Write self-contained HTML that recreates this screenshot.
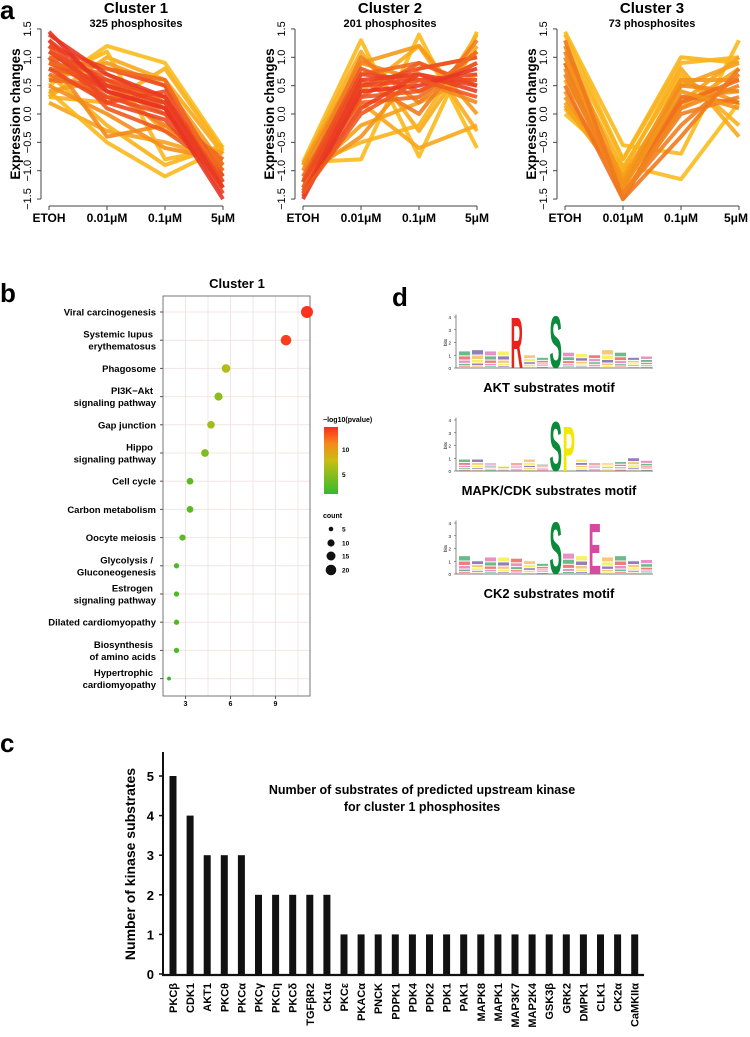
<!DOCTYPE html>
<html><head><meta charset="utf-8"><style>
html,body{margin:0;padding:0;background:#fff;}
svg{display:block;font-family:"Liberation Sans",sans-serif;}
text{font-weight:bold;}
</style></head><body>
<svg id="fig" width="750" height="1037" viewBox="0 0 750 1037"></svg>
<script>
// ---------- Panel a data ----------
const aCats = ["ETOH","0.01\u03bcM","0.1\u03bcM","5\u03bcM"];
const aTicks = [-1.5,-1.0,-0.5,0.0,0.5,1.0,1.5];
const c1Lines = [[0.2,-0.3,-0.5,-0.8],[0.4,-0.5,-1.1,-0.6],[0.7,-0.2,-0.9,-0.55],[0.5,1.2,0.9,-0.6],[0.3,1.0,0.6,-0.7],[0.6,1.1,-0.8,-0.6],[0.3,0.2,0.8,-0.65],[0.4,0.6,-0.3,-0.7],[0.5,0.0,-0.6,-0.8],[0.6,0.9,0.5,-0.9],[0.9,0.4,-0.2,-0.9],[1.0,-0.4,-0.2,-0.9],[0.6,0.5,0.0,-0.8],[0.7,0.3,0.2,-0.9],[1.2,0.1,-0.3,-1.0],[0.8,0.6,0.1,-1.0],[1.0,0.3,0.0,-1.1],[0.9,0.5,0.3,-1.1],[1.2,0.8,0.5,-1.1],[0.9,0.7,0.2,-1.0],[0.8,0.2,0.4,-1.3],[1.0,0.8,0.6,-1.2],[1.1,0.4,0.1,-1.3],[1.3,0.2,-0.1,-1.2],[1.1,0.6,0.3,-1.2],[1.4,0.7,0.3,-1.3],[1.3,0.5,0.2,-1.4],[1.45,0.4,0.1,-1.5]];
const c2Lines = [[-0.85,1.3,-0.75,1.45],[-0.9,1.1,-0.3,1.2],[-0.85,-0.8,1.4,-0.6],[-0.95,-0.5,-0.2,1.4],[-1.0,0.4,1.2,-0.3],[-1.0,0.2,-0.6,-0.2],[-0.9,0.9,1.2,0.0],[-1.15,-0.2,0.2,0.7],[-1.1,-0.4,0.8,1.0],[-1.0,0.9,0.6,0.2],[-1.2,0.6,0.0,1.3],[-1.2,1.0,0.2,1.1],[-1.1,0.7,0.9,0.5],[-1.3,0.3,0.9,0.5],[-1.2,0.8,0.4,0.9],[-1.2,0.5,0.8,1.0],[-1.4,0.5,0.6,0.7],[-1.3,0.7,0.6,0.6],[-1.3,0.2,0.3,1.1],[-1.35,0.3,0.4,0.9],[-1.45,0.6,0.7,0.4],[-1.4,0.1,0.7,0.5],[-1.5,0.4,0.5,0.8],[-1.4,0.0,0.6,0.3]];
const c3Lines = [[1.45,-0.55,-0.7,1.3],[1.2,-0.8,1.0,0.9],[1.4,-0.8,0.9,1.0],[0.0,-0.9,-1.15,0.2],[0.1,-1.0,0.8,-0.4],[1.0,-0.95,0.7,-0.2],[0.2,-1.1,0.5,0.9],[0.15,-1.2,0.1,0.8],[0.3,-1.2,0.6,0.6],[0.6,-1.1,0.2,1.0],[0.4,-1.3,0.3,0.4],[1.2,-1.2,0.6,0.2],[0.9,-1.3,0.5,0.4],[0.7,-1.4,0.0,0.3],[1.1,-1.4,-0.2,0.7],[0.5,-1.5,0.3,0.2],[0.9,-1.5,0.2,0.6],[0.8,-1.45,0.1,0.5],[1.0,-1.3,0.4,0.1],[1.3,-1.5,-0.4,0.8]];
const c1Colors = ["#f6a21a","#f9b81c","#f8b21a","#fbbd1d","#f8a81b","#fbb71c","#f9b01b","#f7a01b","#f58e1c","#f59a1b","#f27a1e","#f38a1d","#f06a20","#f07020","#ef5a20","#ee6221","#ee4d22","#ef5820","#ec4a22","#f06a20","#ec4a22","#f26c1f","#ea4024","#ec4822","#ed4c22","#e93a24","#ea3e24","#e83424"];
const c2Colors = ["#fbb91c","#f9aa1b","#fbba1d","#fab41c","#f9ac1b","#f8a71b","#f59a1b","#f6a01b","#f4921c","#f38a1d","#f17c1e","#f27e1e","#f06c1f","#ef5d20","#ee5221","#ed5021","#ec4722","#ec4a22","#f06b1f","#ee5621","#ea3d24","#eb4223","#e83524","#ee5a21"];
const c3Colors = ["#fbb91c","#f9b21c","#fab51c","#fbbc1e","#f8ab1b","#f9b01b","#f6a01b","#f7a51b","#f5951c","#f7a11b","#f4931c","#f5971c","#f28a1d","#f0801f","#f28020","#f0721f","#ef6e20","#f2851e","#f4931c","#f07a1f"];

// ---------- Panel b data ----------
const bTerms = [["Viral carcinogenesis"],["Systemic lupus","erythematosus"],["Phagosome"],["PI3K\u2212Akt","signaling pathway"],["Gap junction"],["Hippo","signaling pathway"],["Cell cycle"],["Carbon metabolism"],["Oocyte meiosis"],["Glycolysis /","Gluconeogenesis"],["Estrogen","signaling pathway"],["Dilated cardiomyopathy"],["Biosynthesis","of amino acids"],["Hypertrophic","cardiomyopathy"]];
const bX = [11.1,9.7,5.7,5.2,4.7,4.3,3.3,3.3,2.8,2.4,2.4,2.4,2.4,1.9];
const bCount = [20,17,13,12,11,11,9,9,8,6,6,6,6,3];
const bPval = [13,12.5,6.5,5,5.8,4.5,3,3,3,2.5,2.5,2.5,2.5,1.5];
const bTicks = [3,6,9];

// ---------- Panel c data ----------
const kinases = ["PKC\u03b2","CDK1","AKT1","PKC\u03b8","PKC\u03b1","PKC\u03b3","PKC\u03b7","PKC\u03b4","TGF\u03b2R2","CK1\u03b1","PKC\u03b5","PKAC\u03b1","PNCK","PDPK1","PDK4","PDK2","PDK1","PAK1","MAPK8","MAPK1","MAP3K7","MAP2K4","GSK3\u03b2","GRK2","DMPK1","CLK1","CK2\u03b1","CaMKII\u03b1"];
const substrates = [5,4,3,3,3,2,2,2,2,2,1,1,1,1,1,1,1,1,1,1,1,1,1,1,1,1,1,1];
const cTicks = [0,1,2,3,4,5];

// ---------- Panel d data ----------
const logoTitles = ["AKT substrates motif","MAPK/CDK substrates motif","CK2 substrates motif"];
const logoBig = [[[5,"R",4.1,"#e8231c"],[8,"S",4.2,"#0a8a3a"]],[[8,"S",4.0,"#0a8a3a"],[9,"P",3.6,"#f0e800"]],[[8,"S",4.2,"#0a8a3a"],[11,"E",4.1,"#d64aa0"]]];
const logoNoise = [[1.3,1.4,1.3,1.3,0,1.0,0.8,0,1.2,1.1,1.0,1.4,1.2,0.8,0.9],[0.9,0.9,0.6,0.4,0.6,0.9,0.5,0,0,0.9,0.6,0.6,0.7,1.0,0.8],[1.4,1.0,1.3,1.3,1.2,1.0,0.8,0,1.6,1.4,0,1.3,1.4,1.0,1.1]];

const svg = document.getElementById('fig');
const NS = "http://www.w3.org/2000/svg";
function mk(tag, attrs, parent){const e=document.createElementNS(NS,tag);for(const k in attrs)e.setAttribute(k,attrs[k]);(parent||svg).appendChild(e);return e;}
function txt(s, attrs, parent){const e=mk('text',attrs,parent);e.textContent=s;return e;}

let L;
L=txt("a",{x:0,y:19,"font-size":26});
L=txt("b",{x:0,y:302,"font-size":26});
L=txt("c",{x:0,y:752,"font-size":26});
L=txt("d",{x:392,y:306,"font-size":26});

// ---------- Panel a ----------
function lineChart(x0, x1, title, sub, lines, colors, idx){
  const g=mk('g',{});
  
  
  const yS=v=>114-v*56.7;
  const xS=i=>x0+i*(x1-x0)/3;
  lines.forEach((ln,k)=>{
    const p=mk('polyline',{points:ln.map((v,i)=>xS(i)+","+yS(v)).join(" "),fill:"none",stroke:colors[k],"stroke-width":4,"stroke-linejoin":"round","stroke-opacity":0.9},g);
    
    
  });
  mk('line',{x1:x0-8,y1:yS(-1.5),x2:x0-8,y2:yS(1.5),stroke:"#444","stroke-width":1},g);
  aTicks.forEach(t=>{
    mk('line',{x1:x0-12,y1:yS(t),x2:x0-8,y2:yS(t),stroke:"#444"},g);
    const tl=txt(t.toFixed(1).replace("-","\u2212"),{x:0,y:0,"font-size":11,"text-anchor":"middle",transform:`translate(${x0-18},${yS(t)}) rotate(-90)`,style:"font-weight:normal"},g);
    
  });
  mk('line',{x1:x0,y1:206,x2:x1,y2:206,stroke:"#444"},g);
  aCats.forEach((c,i)=>{
    mk('line',{x1:xS(i),y1:206,x2:xS(i),y2:210,stroke:"#444"},g);
    const tl=txt(c,{x:i===3?Math.min(xS(i),736):xS(i),y:222,"font-size":12,"text-anchor":"middle"},g);
    
  });
  const yt=txt("Expression changes",{x:0,y:0,"font-size":13.5,"text-anchor":"middle",transform:`translate(${x0-29},${yS(0)}) rotate(-90)`},g);
  
  const tt=txt(title,{x:(x0+x1)/2,y:13,"font-size":15,"text-anchor":"middle"},g);
  
  const st=txt(sub,{x:(x0+x1)/2,y:27,"font-size":11,"text-anchor":"middle"},g);
  
}
lineChart(49,223,"Cluster 1","325 phosphosites",c1Lines,c1Colors,1);
lineChart(303,477,"Cluster 2","201 phosphosites",c2Lines,c2Colors,2);
lineChart(565,739,"Cluster 3","73 phosphosites",c3Lines,c3Colors,3);

// ---------- Panel b ----------
(function(){
  const g=mk('g',{});
  
  const px0=163,px1=310,py0=296,py1=696;
  const xS=v=>px0+(v-1.5)*15;
  const yS=i=>312+i*28.2;
  for(let v=1.5;v<=11.5;v+=1.5){ if(xS(v)>px0&&xS(v)<px1) mk('line',{x1:xS(v),y1:py0,x2:xS(v),y2:py1,stroke:"#f3e4e4","stroke-width":1},g);}
  bTerms.forEach((t,i)=>mk('line',{x1:px0,y1:yS(i),x2:px1,y2:yS(i),stroke:"#f3e4e4"},g));
  mk('rect',{x:px0,y:py0,width:px1-px0,height:py1-py0,fill:"none",stroke:"#777","stroke-width":1},g);
  const tt=txt("Cluster 1",{x:237,y:288,"font-size":13,"text-anchor":"middle"},g);
  
  function col(p){
    const f=Math.max(0,Math.min(1,(p-1.5)/(13-1.5)));
    let r,gg,b;
    if(f<0.5){const k=f/0.5;r=Math.round(50+k*(200-50));gg=Math.round(185+k*(190-185));b=Math.round(40+k*(20-40));}
    else{const k=(f-0.5)/0.5;r=Math.round(200+k*(255-200));gg=Math.round(190-k*(190-50));b=Math.round(20+k*(30-20));}
    return `rgb(${r},${gg},${b})`;
  }
  bTerms.forEach((t,i)=>{
    mk('line',{x1:px0-3,y1:yS(i),x2:px0,y2:yS(i),stroke:"#555"},g);
    if(t.length===1){
      const l=txt(t[0],{x:156,y:yS(i)+3.5,"font-size":9.5,"text-anchor":"end"},g);
      
    } else {
      const l1=txt(t[0],{x:153,y:yS(i)-2.5,"font-size":9.5,"text-anchor":"end"},g);
      
      const l2=txt(t[1],{x:156,y:yS(i)+9.5,"font-size":9.5,"text-anchor":"end"},g);
      
    }
    const d=mk('circle',{cx:xS(bX[i]),cy:yS(i),r:1.2+bCount[i]*0.24,fill:col(bPval[i])},g);
    
  });
  bTicks.forEach(v=>{
    mk('line',{x1:xS(v),y1:py1,x2:xS(v),y2:py1+3,stroke:"#555"},g);
    const l=txt(String(v),{x:xS(v),y:706,"font-size":7,"text-anchor":"middle"},g);
    
  });
  const lg=mk('g',{},g);
  txt("\u2212log10(pvalue)",{x:323,y:422,"font-size":7},lg);
  const defs=mk('defs',{},lg);
  const gr=mk('linearGradient',{id:"gb",x1:0,y1:1,x2:0,y2:0},defs);
  mk('stop',{offset:"0",  "stop-color":"#33bb2a"},gr);
  mk('stop',{offset:"0.5","stop-color":"#c8be14"},gr);
  mk('stop',{offset:"0.75","stop-color":"#f58a1a"},gr);
  mk('stop',{offset:"1","stop-color":"#ff2a20"},gr);
  const cb=mk('rect',{x:324,y:427,width:14,height:67,fill:"url(#gb)"},lg);
  
  txt("10",{x:342,y:452,"font-size":6.5},lg);
  txt("5",{x:342,y:477,"font-size":6.5},lg);
  txt("count",{x:323,y:518,"font-size":7},lg);
  [[5,529,2.3],[10,543,3.6],[15,556,4.5],[20,570,5.3]].forEach(a=>{
    mk('circle',{cx:331,cy:a[1],r:a[2],fill:"#111"},lg);
    txt(String(a[0]),{x:342,y:a[1]+2.5,"font-size":6.5},lg);
  });
})();

// ---------- Panel c ----------
(function(){
  const g=mk('g',{});
  
  const yS=v=>974-v*39.6;
  const xS=i=>173+i*17.1;
  kinases.forEach((k,i)=>{
    const b=mk('rect',{x:xS(i)-3.5,y:yS(substrates[i]),width:7,height:974-yS(substrates[i]),fill:"#111"},g);
    
    const l=txt(k,{x:0,y:0,"font-size":11,"text-anchor":"end",transform:`translate(${xS(i)+4},${983}) rotate(-90)`},g);
    
  });
  mk('line',{x1:163,y1:752,x2:163,y2:975,stroke:"#111","stroke-width":2},g);
  mk('line',{x1:162,y1:975,x2:644,y2:975,stroke:"#111","stroke-width":2.2},g);
  cTicks.forEach(t=>{
    mk('line',{x1:159,y1:yS(t),x2:163,y2:yS(t),stroke:"#111","stroke-width":1.5},g);
    const l=txt(String(t),{x:154,y:yS(t)+5,"font-size":13,"text-anchor":"end"},g);
    
  });
  const yt=txt("Number of kinase substrates",{x:0,y:0,"font-size":14,"text-anchor":"middle",transform:"translate(135,864) rotate(-90)"},g);
  
  const t1=txt("Number of substrates of predicted upstream kinase",{x:422,y:794,"font-size":12.5,"text-anchor":"middle"},g);
  
  const t2=txt("for cluster 1 phosphosites",{x:422,y:811,"font-size":12.5,"text-anchor":"middle"},g);
  
})();

// ---------- Panel d ----------
(function(){
  const baseY=[368,471,574];
  const noiseCols=["#e8231c","#f5a21a","#0a8a3a","#4a2a8a","#d64aa0","#f0e800"];
  logoTitles.forEach((ttl,li)=>{
    const g=mk('g',{});
    
    const y0=baseY[li], bpx=12.75;
    const xS=p=>459+(p-1)*13;
    mk('line',{x1:456,y1:y0,x2:456,y2:y0-4.2*bpx,stroke:"#555","stroke-width":0.7},g);
    mk('line',{x1:456,y1:y0,x2:653,y2:y0,stroke:"#555","stroke-width":0.7},g);
    for(let b=0;b<=4;b++){ mk('line',{x1:454,y1:y0-b*bpx,x2:456,y2:y0-b*bpx,stroke:"#555","stroke-width":0.6},g);
      txt(String(b),{x:451,y:y0-b*bpx+2,"font-size":4.5,"text-anchor":"end",style:"font-weight:normal"},g);}
    txt("bits",{x:0,y:0,"font-size":4.5,transform:`translate(447,${y0-22}) rotate(-90)`,style:"font-weight:normal"},g);
    logoNoise[li].forEach((h,pi)=>{
      if(h<=0)return;
      let y=y0; const hh=h*bpx;
      const ws=[0.1,0.15,0.2,0.25,0.3];
      for(let k=0;k<5;k++){
        const s=hh*ws[k]; y-=s;
        mk('rect',{x:xS(pi+1),y:y,width:11,height:Math.max(s-1,0.5),fill:noiseCols[(pi+k*2)%6],opacity:0.6},g);
      }
    });
    logoBig[li].forEach(bg=>{
      const [pos,ch,h,c]=bg;
      const H=h*bpx, fs=H/0.72;
      const t=txt(ch,{x:xS(pos)-0.5,y:y0,"font-size":fs,fill:c,textLength:12.5,lengthAdjust:"spacingAndGlyphs"},g);
      
    });
    const tl=txt(ttl,{x:549,y:y0+24,"font-size":13,"text-anchor":"middle"},g);
    
  });
})();
</script>
</body></html>
